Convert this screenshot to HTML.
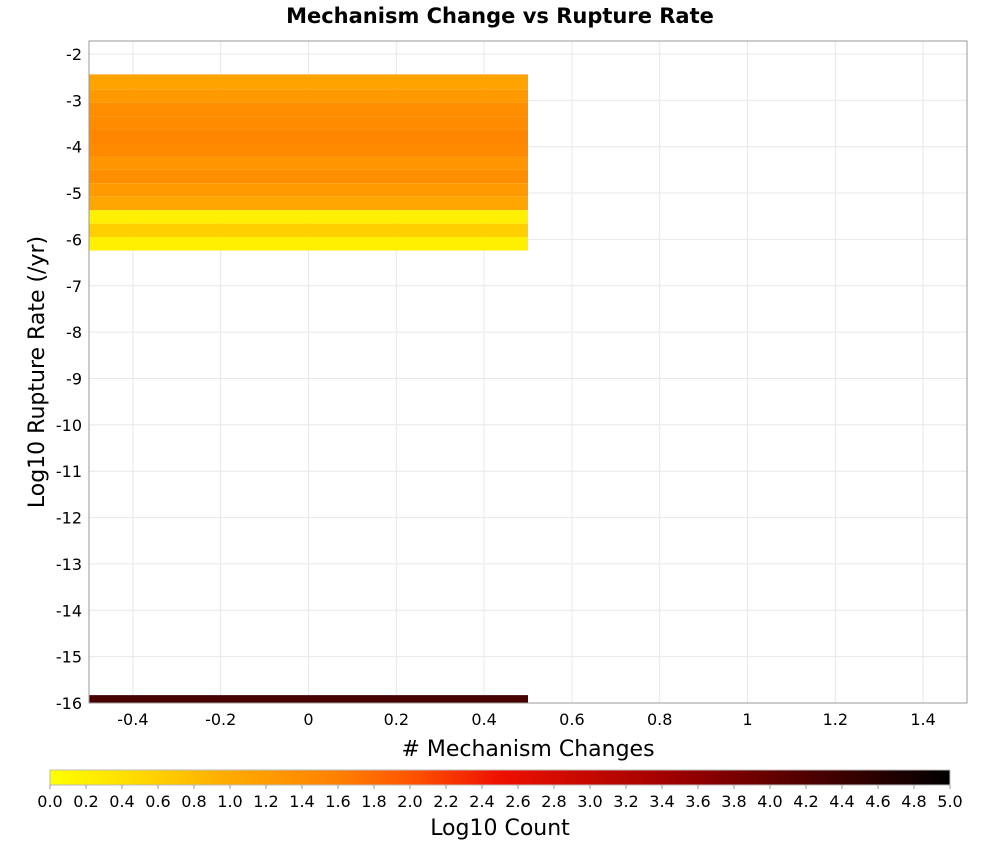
<!DOCTYPE html>
<html><head><meta charset="utf-8">
<style>
body{margin:0;background:#fff;}
svg{display:block;font-family:"DejaVu Sans","Liberation Sans",sans-serif;}
</style></head>
<body>
<svg id="chart" width="1000" height="850" viewBox="0 0 1000 850" xmlns="http://www.w3.org/2000/svg">
<text x="500" y="23" text-anchor="middle" font-size="21" font-weight="bold">Mechanism Change vs Rupture Rate</text>
<g id="grid"></g>
<g id="cells"></g>
<rect x="89" y="41" width="878" height="662" fill="none" stroke="#999" stroke-width="1"/>
<g id="xticks"></g>
<g id="yticks"></g>
<text x="528" y="756" text-anchor="middle" font-size="22">#  Mechanism Changes</text>
<text transform="translate(44,372) rotate(-90)" text-anchor="middle" font-size="22">Log10 Rupture Rate (/yr)</text>
<defs><linearGradient id="cbg" x1="0" x2="1" y1="0" y2="0"></linearGradient></defs>
<rect x="50" y="770" width="900" height="15" fill="url(#cbg)" stroke="#bbb"/>
<g id="cbticks"></g>
<text x="500" y="835" text-anchor="middle" font-size="22">Log10 Count</text>
</svg>
<script>
const xTicks=[-0.4,-0.2,0,0.2,0.4,0.6,0.8,1,1.2,1.4];
const yTicks=[-2,-3,-4,-5,-6,-7,-8,-9,-10,-11,-12,-13,-14,-15,-16];
const cellX0=[-0.5,-0.5,-0.5,-0.5,-0.5,-0.5,-0.5,-0.5,-0.5,-0.5,-0.5,-0.5,-0.5,-0.5];
const cellX1=[0.5,0.5,0.5,0.5,0.5,0.5,0.5,0.5,0.5,0.5,0.5,0.5,0.5,0.5];
const cellYLow=[-2.76,-3.05,-3.34,-3.63,-3.92,-4.21,-4.50,-4.79,-5.08,-5.37,-5.66,-5.95,-6.24,-16.0];
const cellYHigh=[-2.44,-2.76,-3.05,-3.34,-3.63,-3.92,-4.21,-4.50,-4.79,-5.08,-5.37,-5.66,-5.95,-15.83];
const cellVal=[1.1,1.25,1.42,1.44,1.52,1.46,1.3,1.4,1.22,1.05,0.2,0.6,0.2,4.3];
const cbTicks=[0,0.2,0.4,0.6,0.8,1,1.2,1.4,1.6,1.8,2,2.2,2.4,2.6,2.8,3,3.2,3.4,3.6,3.8,4,4.2,4.4,4.6,4.8,5];

const NS="http://www.w3.org/2000/svg";
const PX0=89,PX1=967,PY0=41,PY1=703;
const xMin=-0.5,xMax=1.5,yMin=-16,yMax=-1.72;
const xs=v=>PX0+(v-xMin)/(xMax-xMin)*(PX1-PX0);
const ys=v=>PY1-(v-yMin)/(yMax-yMin)*(PY1-PY0);
const cbs=v=>50+v/5*900;
const stops=[[0,[255,255,0]],[0.5,[255,216,0]],[1.0,[255,170,0]],[1.6,[255,128,0]],[2.0,[255,85,0]],[2.5,[238,16,0]],[3.5,[153,0,0]],[4.2,[80,0,0]],[5,[0,0,0]]];
function cmap(v){
  for(let i=0;i<stops.length-1;i++){const a=stops[i],b=stops[i+1];
    if(v<=b[0]){const t=(v-a[0])/(b[0]-a[0]);return 'rgb('+a[1].map((c,k)=>Math.round(c+(b[1][k]-c)*t)).join(',')+')';}}
  return 'rgb(0,0,0)';
}
function el(tag,attrs,parent){const e=document.createElementNS(NS,tag);for(const k in attrs)e.setAttribute(k,attrs[k]);parent.appendChild(e);return e;}
const grid=document.getElementById('grid'),cells=document.getElementById('cells');
xTicks.forEach(v=>{const l=el('line',{x1:xs(v),x2:xs(v),y1:PY0,y2:PY1,stroke:'#e8e8e8'},grid);
  
  
  const t=el('text',{x:xs(v),y:725,'text-anchor':'middle','font-size':16},document.getElementById('xticks'));
  t.textContent=String(v);
  
  });
yTicks.forEach(v=>{const l=el('line',{x1:PX0,x2:PX1,y1:ys(v),y2:ys(v),stroke:'#e8e8e8'},grid);
  
  
  const t=el('text',{x:82,y:ys(v)+6,'text-anchor':'end','font-size':16},document.getElementById('yticks'));
  t.textContent=String(v);
  
  });
cellVal.forEach((v,i)=>{const y0=ys(cellYHigh[i]),y1=ys(cellYLow[i]);
  const r=el('rect',{x:xs(cellX0[i]),y:y0,width:xs(cellX1[i])-xs(cellX0[i]),height:y1-y0,fill:cmap(v)},cells);
  
  });
const g=document.getElementById('cbg');
for(let i=0;i<=50;i++){const v=i/10;el('stop',{offset:(v/5*100)+'%','stop-color':cmap(v)},g);}
const cbt=document.getElementById('cbticks');
cbTicks.forEach(v=>{const l=el('line',{x1:cbs(v),x2:cbs(v),y1:785,y2:789,stroke:'#999'},cbt);
  
  
  const t=el('text',{x:cbs(v),y:807,'text-anchor':'middle','font-size':16},cbt);
  t.textContent=v.toFixed(1);
  
  });
</script>
</body></html>
